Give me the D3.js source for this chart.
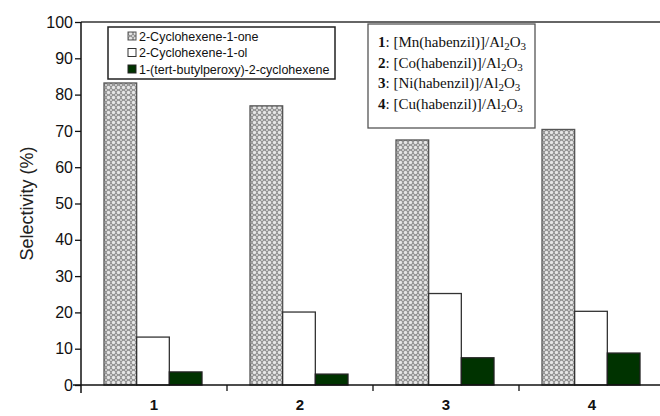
<!DOCTYPE html>
<html>
<head>
<meta charset="utf-8">
<script src="https://cdn.jsdelivr.net/npm/d3@7"></script>
<style>
  body { margin: 0; background: #fff; }
  svg { display: block; font-family: "Liberation Sans", Arial, sans-serif; }
</style>
</head>
<body>
<div id="chart"></div>
<script>
// catalysts on the x axis, three products per catalyst
const categories = ["1", "2", "3", "4"];
const seriesNames = ["2-Cyclohexene-1-one", "2-Cyclohexene-1-ol", "1-(tert-butylperoxy)-2-cyclohexene"];
const enone = [83.2, 76.9, 67.5, 70.4];
const enol = [13.2, 20.1, 25.2, 20.3];
const peroxide = [3.6, 3.0, 7.5, 8.8];
const yTicks = [0, 10, 20, 30, 40, 50, 60, 70, 80, 90, 100];
const catalystMetals = ["Mn", "Co", "Ni", "Cu"];

const W = 660, H = 416;
const m = { left: 81, right: -5, top: 22, bottom: 31 };

const svg = d3.select("#chart").append("svg").attr("width", W).attr("height", H);

// dotted grey fill for the first series
const defs = svg.append("defs");
const pat = defs.append("pattern").attr("id", "dots").attr("patternUnits", "userSpaceOnUse")
  .attr("width", 5).attr("height", 5);
pat.append("rect").attr("width", 5).attr("height", 5).attr("fill", "#929292");
pat.append("circle").attr("cx", 2.5).attr("cy", 2.5).attr("r", 1.7).attr("fill", "#e6e6e6");
[[0, 0], [5, 0], [0, 5], [5, 5]].forEach(([cx, cy]) =>
  pat.append("circle").attr("cx", cx).attr("cy", cy).attr("r", 1.1).attr("fill", "#d8d8d8"));

const fills = ["url(#dots)", "#ffffff", "#003300"];
const strokes = ["#555", "#333", "#222"];

const x = d3.scaleBand().domain(categories).range([m.left, W - m.right]).paddingInner(0).paddingOuter(0);
const xs = d3.scaleBand().domain(d3.range(3)).range([23, 121]).padding(0);
const y = d3.scaleLinear().domain([0, 100]).range([H - m.bottom, m.top]);

const rows = categories.map((c, i) => ({ c, vals: [enone[i], enol[i], peroxide[i]] }));

// bars
const g = svg.append("g").selectAll("g").data(rows).join("g")
  .attr("transform", d => `translate(${x(d.c)},0)`);
g.selectAll("rect").data(d => d.vals).join("rect")
  .attr("x", (d, j) => xs(j))
  .attr("width", xs.bandwidth())
  .attr("y", d => y(d))
  .attr("height", d => y(0) - y(d))
  .attr("fill", (d, j) => fills[j])
  .attr("stroke", (d, j) => strokes[j])
  .attr("stroke-width", 1.3);

// top frame line
svg.append("line").attr("x1", m.left).attr("x2", W).attr("y1", y(100)).attr("y2", y(100))
  .attr("stroke", "#333").attr("stroke-width", 1.5);

// y axis
const yAxis = svg.append("g").attr("transform", `translate(${m.left},0)`)
  .call(d3.axisLeft(y).tickValues(yTicks).tickSize(6).tickPadding(2));
yAxis.select(".domain").attr("d", `M0,${y(100)}V${y(0) + 8}`).attr("stroke", "#111").attr("stroke-width", 1.5);
yAxis.selectAll(".tick line").attr("stroke", "#111").attr("stroke-width", 1.3);
yAxis.selectAll("text").attr("font-size", 16).attr("fill", "#111");

// x axis: ticks at group boundaries, labels centred
const xAxis = svg.append("g").attr("transform", `translate(0,${y(0)})`);
xAxis.append("line").attr("x1", m.left - 8).attr("x2", W).attr("stroke", "#111").attr("stroke-width", 1.5);
xAxis.selectAll("line.tk").data(categories.slice(1)).join("line").attr("class", "tk")
  .attr("x1", d => x(d)).attr("x2", d => x(d)).attr("y1", 0).attr("y2", 6)
  .attr("stroke", "#111").attr("stroke-width", 1.3);
xAxis.selectAll("text").data(categories).join("text")
  .attr("x", d => x(d) + x.bandwidth() / 2).attr("y", 25)
  .attr("text-anchor", "middle").attr("font-size", 15).attr("font-weight", "bold").attr("fill", "#111")
  .text(d => d);

// y title
svg.append("text").attr("transform", `translate(33,${(y(0) + y(100)) / 2}) rotate(-90)`)
  .attr("text-anchor", "middle").attr("font-size", 18).attr("fill", "#222").text("Selectivity (%)");

// series legend
const lg = svg.append("g");
lg.append("rect").attr("x", 108).attr("y", 27).attr("width", 227).attr("height", 52)
  .attr("fill", "#fff").attr("stroke", "#222").attr("stroke-width", 1.5);
const li = lg.selectAll("g").data(seriesNames).join("g")
  .attr("transform", (d, i) => `translate(128,${36 + i * 16.5})`);
li.append("rect").attr("x", 0).attr("y", -4).attr("width", 8).attr("height", 8)
  .attr("fill", (d, i) => fills[i]).attr("stroke", (d, i) => strokes[i]).attr("stroke-width", 1);
li.append("text").attr("x", 11).attr("y", 4.5).attr("font-size", 12.5).attr("fill", "#111").text(d => d);

// catalyst key
const kg = svg.append("g");
kg.append("rect").attr("x", 368).attr("y", 24).attr("width", 167).attr("height", 104)
  .attr("fill", "#fff").attr("stroke", "#555").attr("stroke-width", 1.3);
const kt = kg.selectAll("text").data(categories).join("text")
  .attr("x", 378).attr("y", (d, i) => 47 + i * 20.7)
  .attr("font-family", "'Liberation Serif', 'Times New Roman', serif").attr("font-size", 15).attr("fill", "#111");
kt.append("tspan").attr("font-weight", "bold").text(d => d);
kt.append("tspan").text((d, i) => `: [${catalystMetals[i]}(habenzil)]/Al`);
kt.append("tspan").attr("font-size", 11).attr("dy", 3).text("2");
kt.append("tspan").attr("dy", -3).text("O");
kt.append("tspan").attr("font-size", 11).attr("dy", 3).text("3");
</script>
</body>
</html>
